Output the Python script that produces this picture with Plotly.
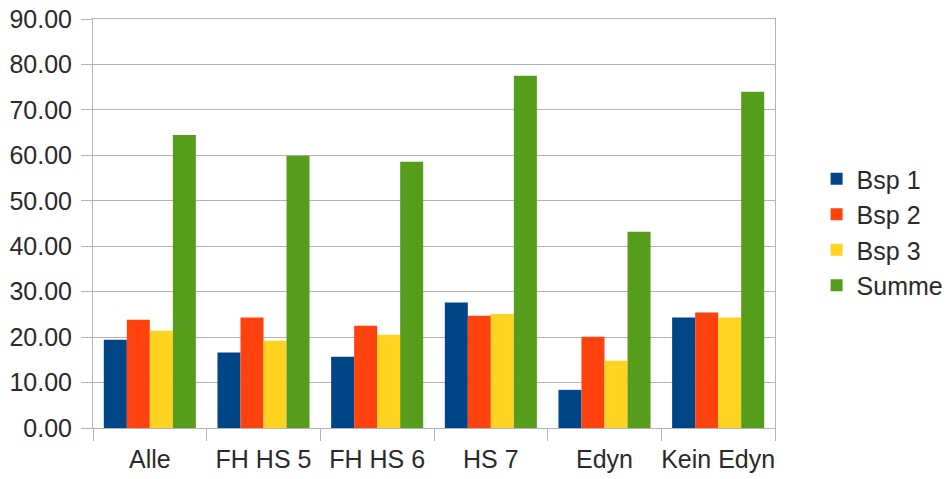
import plotly.graph_objects as go

categories = ["Alle", "FH HS 5", "FH HS 6", "HS 7", "Edyn", "Kein Edyn"]
series_names = ["Bsp 1", "Bsp 2", "Bsp 3", "Summe"]
bsp1 = [19.4, 16.6, 15.7, 27.6, 8.4, 24.3]
bsp2 = [23.8, 24.3, 22.5, 24.7, 20.1, 25.4]
bsp3 = [21.4, 19.2, 20.5, 25.1, 14.8, 24.3]
summe = [64.5, 59.9, 58.6, 77.5, 43.2, 74.0]
colors = ["#004586", "#ff420e", "#ffd320", "#579d1c"]

fig = go.Figure()
for name, vals, col in zip(series_names, [bsp1, bsp2, bsp3, summe], colors):
    fig.add_trace(go.Bar(x=categories, y=vals, name=name, marker=dict(color=col, line=dict(width=0))))

grid = "#b3b3b3"
fig.update_layout(
    width=949, height=479,
    margin=dict(l=93, r=174, t=19, b=51, autoexpand=False),
    barmode="group", bargap=0.19, bargroupgap=0,
    plot_bgcolor="white", paper_bgcolor="white",
    font=dict(family="Liberation Sans", size=25, color="#2a2a2a"),
    legend=dict(x=1.061, y=0.665, xanchor="left", yanchor="top",
                font=dict(size=25), bgcolor="rgba(0,0,0,0)", tracegroupgap=0),
    showlegend=True,
)
fig.update_yaxes(range=[0, 90], dtick=10, tickformat=".2f", showgrid=True, gridcolor=grid, gridwidth=1,
                 showline=True, linecolor=grid, linewidth=1, mirror=True, automargin=False,
                 ticklabeloverflow="allow",
                 ticks="outside", ticklen=11, tickcolor=grid, zeroline=False, ticklabelstandoff=4)
fig.update_xaxes(type="category", showline=True, linecolor=grid, linewidth=1, mirror=True,
                 automargin=False, tickangle=0, ticklabelstandoff=9, ticklabeloverflow="allow",
                 ticks="outside", ticklen=12, tickcolor=grid, tickson="boundaries", showgrid=False)
fig.write_html("out.html", config={"displayModeBar": False},
               post_script="document.body.style.margin='0';")
